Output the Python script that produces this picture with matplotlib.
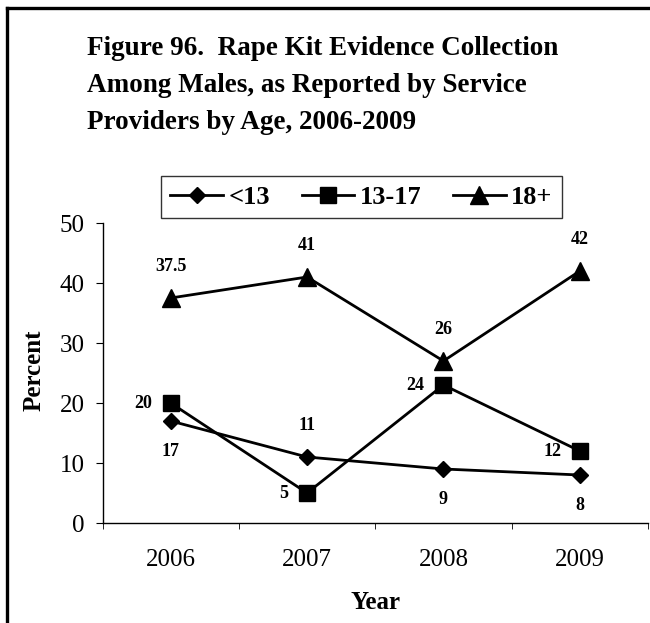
import matplotlib.pyplot as plt
from matplotlib.lines import Line2D

plt.rcParams['font.family'] = ['Liberation Serif', 'DejaVu Serif']

# Datos (posiciones de los marcadores; etiquetas tal como aparecen)
years = ['2006', '2007', '2008', '2009']
under13 = [17, 11, 9, 8]
age13_17 = [20, 5, 23, 12]
age18plus = [37.5, 41, 27, 42]
labels_under13 = ['17', '11', '9', '8']
labels_13_17 = ['20', '5', '24', '12']
labels_18plus = ['37.5', '41', '26', '42']

W, H = 650, 623
fig = plt.figure(figsize=(W / 100, H / 100), dpi=100)


def fx(px):
    return px / W


def fy(py):
    return 1 - py / H


# marco exterior (solo izquierda y arriba visibles)
fig.add_artist(Line2D([fx(7), fx(7)], [fy(8), -0.1], color='black', lw=2.4))
fig.add_artist(Line2D([fx(7), 1.1], [fy(8), fy(8)], color='black', lw=2.4))

# titulo
title_lines = ['Figure 96.  Rape Kit Evidence Collection',
               'Among Males, as Reported by Service',
               'Providers by Age, 2006-2009']
for i, line in enumerate(title_lines):
    fig.text(fx(87), fy(55 + 37 * i), line, fontsize=19.5, fontweight='bold',
             ha='left', va='baseline')

ax = fig.add_axes([fx(102.5), fy(523), fx(648) - fx(102.5), fy(223) - fy(523)])
x = list(range(len(years)))

ax.plot(x, under13, color='black', lw=2, marker='D', ms=8.5, label='<13')
ax.plot(x, age13_17, color='black', lw=2, marker='s', ms=11, label='13-17')
ax.plot(x, age18plus, color='black', lw=2, marker='^', ms=12.5, label='18+')

# etiquetas de datos
off_under13 = [(0, -22), (0, 23), (0, -22), (0, -22)]
for xi, yi, t, o in zip(x, under13, labels_under13, off_under13):
    ax.annotate(t, (xi, yi), xytext=o, textcoords='offset points', ha='center',
                va='center', fontsize=13, fontweight='bold')
for xi, yi, t in zip(x, age13_17, labels_13_17):
    ax.annotate(t, (xi, yi), xytext=(-13.5, 0), textcoords='offset points',
                ha='right', va='center', fontsize=13, fontweight='bold')
for xi, yi, t in zip(x, age18plus, labels_18plus):
    ax.annotate(t, (xi, yi), xytext=(0, 22.5), textcoords='offset points',
                ha='center', va='center', fontsize=13, fontweight='bold')

ax.set_xlim(-0.5, 3.5)
ax.set_ylim(0, 50)
ax.set_yticks(range(0, 51, 10))
ax.set_xticks(x)
ax.set_xticklabels(years)
ax.set_xticks([-0.5, 0.5, 1.5, 2.5, 3.5], minor=True)
ax.tick_params(axis='x', which='major', length=0, pad=19, labelsize=18)
ax.tick_params(axis='x', which='minor', length=4.5, direction='out')
ax.tick_params(axis='y', length=5, direction='out', pad=8, labelsize=18)

for s in ['top', 'right']:
    ax.spines[s].set_visible(False)
for s in ['left', 'bottom']:
    ax.spines[s].set_linewidth(1)

ax.set_xlabel('Year', fontsize=18, fontweight='bold')
ax.xaxis.set_label_coords(0.5, -0.227)
ax.set_ylabel('Percent', fontsize=18, fontweight='bold')
ax.yaxis.set_label_coords(-0.104, 0.51)

leg = fig.legend(loc='center', bbox_to_anchor=(fx(361.5), fy(197)), ncol=3,
                 frameon=True, fancybox=False, edgecolor='black',
                 handlelength=2.0, handletextpad=0.2, columnspacing=1.2,
                 borderpad=0.35, prop={'weight': 'bold', 'size': 19})
leg.get_frame().set_linewidth(1)

fig.savefig('out.png', dpi=100)
